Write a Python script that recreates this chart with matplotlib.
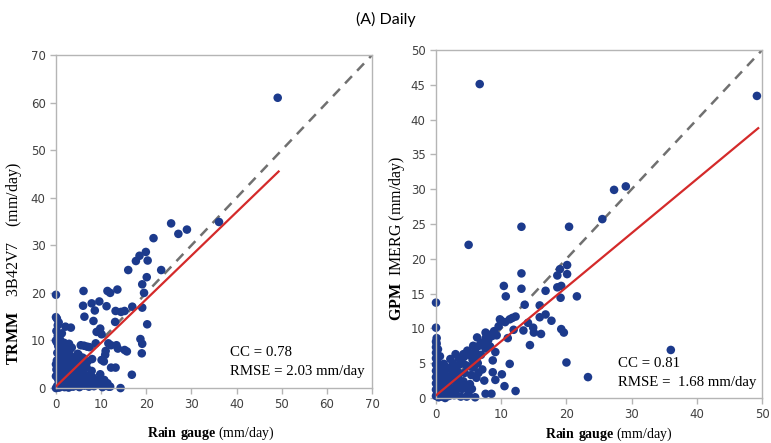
import matplotlib.pyplot as plt
import numpy as np

plt.rcParams['mathtext.fontset'] = 'custom'
plt.rcParams['mathtext.rm'] = 'Liberation Serif'
plt.rcParams['mathtext.bf'] = 'Liberation Serif:bold'

# ---- TRMM 3B42V7 vs rain gauge (daily) ----
trmm_gauge = [
    49.1, 36.1, 25.5, 27.1, 29.0, 21.6, 19.9, 18.5, 17.7, 20.3, 16.0, 23.3, 20.1, 19.1,
    19.5, 19.1, 16.9, 20.2, 18.7, 19.1, 19.0, 16.8, 14.3, 13.6, 12.0, 11.4, 6.1, 0.0,
    6.0, 7.9, 9.6, 11.2, 8.6, 13.2, 14.4, 15.2, 6.3, 13.1, 8.3, 9.8, 9.0, 10.1, 2.1, 3.3,
    11.6, 12.2, 8.8, 13.4, 13.7, 15.2, 15.7, 5.5, 6.9, 11.0, 10.9, 10.1, 8.0, 10.6, 12.2,
    13.2, 6.4, 5.0, 9.8, 10.7, 11.4, 12.0,
    0.3, 0.5, 0.8, 0.4, 0.6, 0.3, 0.5, 0.2, 1.2, 1.5, 1.1, 1.4, 1.3, 1.0, 1.6,
    2.2, 2.4, 2.1, 2.6, 2.3, 2.0, 2.7, 3.1, 3.3, 3.5, 3.2, 3.6, 3.4, 3.0,
    4.2, 4.4, 4.1, 4.6, 4.3, 4.8, 5.2, 5.5, 5.1, 5.7, 5.4, 5.9, 6.2,
    6.3, 6.6, 6.1, 6.8, 7.0, 7.4, 7.3, 7.6, 7.2, 7.9, 8.4, 8.7, 8.2, 9.3, 9.6,
    10.3, 10.8, 11.2, 11.7, 0.9, 1.8, 2.9, 0.1, 0.4, 0.2, 0.6, 1.3, 0.0, 0.0, 0.0,
    0.0, 0.0, 0.7, 1.9, 2.8, 3.8, 4.9, 0.2, 0.1, 0.9,
    0.8, 1.8, 2.8, 3.8, 4.8, 0.9, 1.9, 2.9, 3.9, 4.9, 5.9, 6.9, 0.7, 1.7, 2.8,
    3.9, 4.9, 0.8, 1.7, 2.5, 3.5, 1.2, 0.3, 0.2, 5.0, 6.0, 8.0, 9.0, 10.0, 0.4,
]
trmm_sat = [
    61.0, 34.9, 34.6, 32.4, 33.3, 31.5, 28.6, 27.8, 26.7, 26.8, 24.8, 24.8, 23.3, 21.8,
    20.0, 16.9, 17.1, 13.4, 10.3, 9.3, 7.3, 2.8, 0.0, 20.7, 20.0, 20.4, 20.4, 19.6,
    17.3, 17.8, 18.2, 17.2, 16.3, 16.2, 16.0, 16.2, 15.0, 13.9, 14.1, 12.5, 11.8, 11.3, 12.9, 12.7,
    9.4, 9.0, 9.4, 9.0, 8.3, 8.0, 7.7, 9.0, 8.7, 7.8, 7.0, 5.9, 6.1, 5.6, 4.3,
    4.3, 5.2, 7.0, 2.9, 1.7, 1.0, 0.3,
    0.5, 1.8, 3.2, 4.6, 6.1, 7.4, 8.8, 9.6, 0.4, 1.6, 2.9, 4.2, 5.6, 7.0, 8.2,
    0.8, 2.1, 3.5, 4.9, 6.3, 7.6, 8.9, 0.3, 1.4, 2.7, 4.0, 5.3, 6.6, 7.9,
    0.6, 1.9, 3.3, 4.6, 5.9, 7.2, 0.2, 1.2, 2.5, 3.8, 5.1, 6.4, 8.9,
    0.5, 1.7, 3.0, 4.3, 5.6, 8.6, 0.3, 1.4, 2.6, 3.6, 0.4, 1.6, 2.2, 0.7, 1.9,
    0.2, 1.2, 0.5, 0.3, 10.2, 9.5, 9.3, 12.0, 13.2, 14.6, 13.8, 11.5, 2.5, 5.0, 10.0,
    14.9, 0.0, 0.1, 0.2, 0.1, 0.3, 0.4, 5.8, 3.9, 2.1,
    1.0, 1.0, 1.2, 1.0, 1.1, 2.4, 2.6, 2.0, 2.3, 1.8, 1.5, 1.0, 5.3, 4.0, 5.8,
    4.8, 4.0, 8.0, 6.5, 7.0, 8.5, 9.2, 3.8, 2.6, 5.8, 4.8, 0.9, 1.3, 0.8, 11.0,
]

# ---- GPM IMERG vs rain gauge (daily) ----
gpm_gauge = [
    49.2, 6.7, 5.0, 13.1, 20.4, 25.5, 27.3, 29.1, 36.0, 23.3, 20.0, 20.1, 20.1, 19.0,
    18.6, 19.2, 18.6, 19.1, 21.6, 13.1, 13.1, 10.4, 10.7, 16.8, 15.9, 13.6, 16.8, 15.9,
    17.7, 19.2, 19.6, 16.1, 14.9, 15.0, 14.1, 14.4, 13.4, 11.9, 12.2, 11.7, 11.3, 10.0,
    9.6, 11.0, 9.1, 8.7, 10.1, 10.5, 11.3, 12.2, 8.7, 9.1, 8.5, 6.0, 7.6, 0.0, 0.0,
    6.3, 7.6, 8.1, 7.2, 4.8,
    0.0, 0.0, 0.0, 0.0, 0.0, 0.0, 0.0, 0.0, 0.0, 0.0, 0.1, 0.2, 0.3, 0.4, 0.6, 0.3,
    0.5, 0.8, 0.9, 1.1, 1.3, 1.0, 1.5, 1.7, 1.9, 2.1, 2.0, 2.3, 2.5, 2.7, 2.4, 3.0,
    3.2, 3.4, 3.1, 3.6, 3.8, 4.0, 4.2, 3.9, 4.4, 4.6, 4.3, 5.0, 5.2, 5.4, 5.1, 5.6,
    5.8, 6.0, 6.2, 6.4, 6.6, 6.9, 7.1, 7.3, 7.6, 7.8, 8.0, 8.3, 8.6, 8.9, 9.3, 6.5,
    7.4, 5.5, 4.7, 1.2, 0.7, 2.2, 3.0, 4.8, 9.8, 10.6, 0.1, 0.2, 0.1, 0.4, 1.4, 2.8,
    0.5, 1.2, 1.8, 2.8, 0.9, 1.6, 2.6, 3.5, 4.2, 5.3, 6.0, 0.6, 0.3, 0.2, 3.7,
    4.5, 2.9, 5.7, 6.9, 7.6, 1.4, 2.0, 3.3,
]
gpm_sat = [
    43.4, 45.1, 22.0, 24.6, 24.6, 25.7, 29.9, 30.4, 6.9, 3.0, 5.1, 19.1, 17.8, 18.5,
    17.6, 16.1, 15.9, 14.4, 14.6, 17.9, 15.7, 16.1, 14.6, 15.4, 13.3, 13.4, 12.0, 11.6,
    11.1, 9.9, 9.4, 9.2, 10.1, 9.4, 10.8, 7.6, 9.7, 9.8, 11.7, 11.5, 11.3, 11.1,
    10.3, 8.6, 6.6, 5.4, 3.4, 1.7, 4.9, 1.0, 3.7, 2.6, 0.6, 0.1, 0.6, 13.7, 10.1,
    8.7, 9.4, 8.9, 7.7, 6.5,
    0.3, 1.2, 2.1, 3.0, 3.9, 4.8, 5.7, 6.5, 7.3, 8.1, 8.6, 5.2, 4.1, 3.2, 2.4, 1.6,
    0.7, 0.2, 1.5, 2.6, 3.6, 0.6, 1.1, 2.0, 3.1, 4.2, 0.3, 1.4, 2.5, 3.5, 4.5, 0.8,
    1.9, 3.0, 4.0, 4.8, 0.2, 1.3, 2.4, 5.2, 3.6, 4.7, 5.9, 0.5, 2.0, 3.3, 6.2, 5.5,
    4.4, 6.8, 2.9, 5.0, 7.5, 6.2, 4.1, 8.0, 7.1, 9.2, 8.3, 7.4, 8.9, 9.6, 9.0, 3.6,
    2.5, 1.3, 0.2, 4.9, 4.4, 5.6, 6.3, 6.8, 11.3, 10.9, 2.9, 0.9, 7.8, 0.1, 0.0, 0.4,
    1.2, 0.3, 0.9, 1.0, 3.3, 4.4, 5.0, 5.7, 6.3, 4.5, 5.8, 6.0, 7.0, 2.8, 2.2,
    1.4, 2.9, 7.5, 7.9, 8.6, 1.9, 2.9, 3.8,
]

# least-squares lines as drawn in the figure
trmm_fit = (0.916, 0.35, 49.3)   # slope, intercept, x end
gpm_fit = (0.777, 0.38, 49.4)
trmm_stats = ["CC = 0.78", "RMSE = 2.03 mm/day"]
gpm_stats = ["CC = 0.81", "RMSE =  1.68 mm/day"]

dot_color = '#1c3a8c'
fig = plt.figure(figsize=(7.71, 4.43), dpi=100)
fig.text(0.5, 0.955, "(A) Daily", ha='center', va='center', fontsize=11.5, family='Lato')

ax1 = fig.add_axes([0.0726, 0.124, 0.41, 0.752])
ax2 = fig.add_axes([0.5655, 0.1016, 0.423, 0.7856])


def style_axis(ax, lim, step):
    ax.set_xlim(0, lim)
    ax.set_ylim(0, lim)
    ax.set_xticks(np.arange(0, lim + 1, step))
    ax.set_yticks(np.arange(0, lim + 1, step))
    for sp in ax.spines.values():
        sp.set_color('#b5b5b5')
        sp.set_linewidth(1.0)
    ax.tick_params(colors='#b5b5b5', labelcolor='#404040', labelsize=8.5, length=4, width=1)


def draw_panel(ax, gauge, sat, fit, lim):
    ax.plot([0, lim], [0, lim], color='#707070', lw=1.8, ls=(0, (4, 3)), zorder=1)
    ax.scatter(gauge, sat, s=38, color=dot_color, edgecolors='none', zorder=2, clip_on=False)
    slope, icpt, xend = fit
    ax.plot([0, xend], [icpt, icpt + slope * xend], color='#d42a2a', lw=1.6, zorder=3)


draw_panel(ax1, trmm_gauge, trmm_sat, trmm_fit, 70)
style_axis(ax1, 70, 10)
ax1.text(38.5, 7.4, trmm_stats[0], fontsize=10.7, family='Liberation Serif', va='center')
ax1.text(38.5, 3.4, trmm_stats[1], fontsize=10.7, family='Liberation Serif', va='center')
ax1.set_ylabel(r'$\mathbf{TRMM}$    3B42V7    (mm/day)', family='Liberation Serif', fontsize=11.5)
ax1.yaxis.set_label_coords(-0.10, 0.375)
ax1.set_xlabel(r'$\mathbf{Rain\ gauge}$ (mm/day)', family='Liberation Serif', fontsize=10)
ax1.xaxis.set_label_coords(0.49, -0.11)

draw_panel(ax2, gpm_gauge, gpm_sat, gpm_fit, 50)
style_axis(ax2, 50, 5)
ax2.set_xticks(np.arange(0, 51, 10))
ax2.text(27.9, 4.9, gpm_stats[0], fontsize=10.7, family='Liberation Serif', va='center')
ax2.text(27.9, 2.2, gpm_stats[1], fontsize=10.7, family='Liberation Serif', va='center')
ax2.set_ylabel(r'$\mathbf{GPM}$  IMERG (mm/day)', family='Liberation Serif', fontsize=11.5)
ax2.yaxis.set_label_coords(-0.089, 0.46)
ax2.set_xlabel(r'$\mathbf{Rain\ gauge}$ (mm/day)', family='Liberation Serif', fontsize=10)
ax2.xaxis.set_label_coords(0.53, -0.08)

fig.savefig('out.png', dpi=100)
